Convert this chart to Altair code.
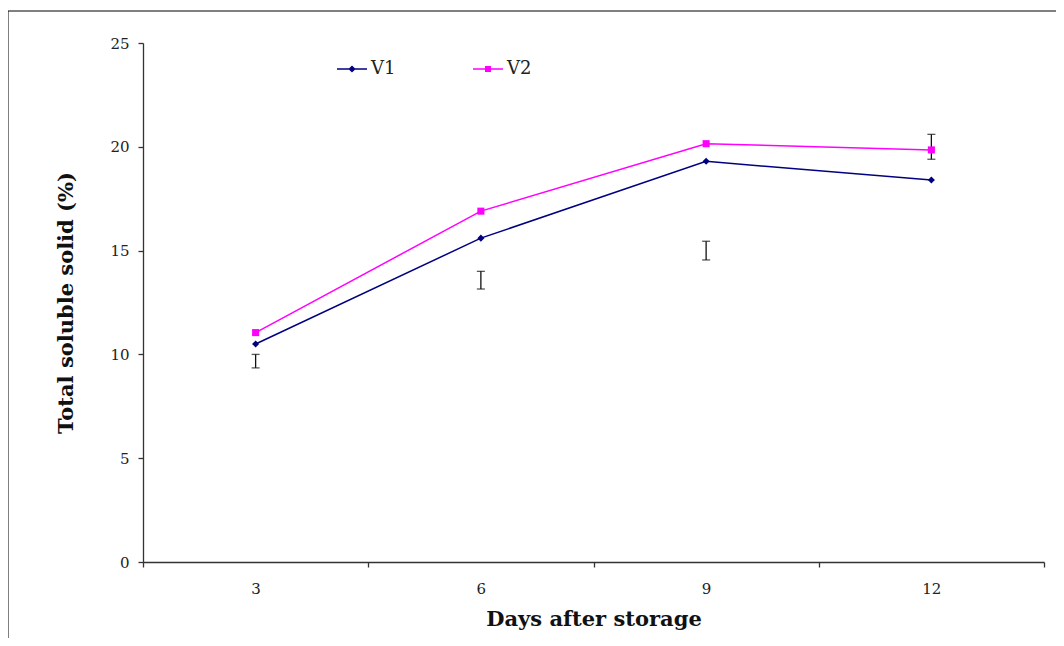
import altair as alt
import pandas as pd

days = [3, 6, 9, 12]
series = ["V1", "V2"]
v1 = [10.5, 15.6, 19.3, 18.4]
v2 = [11.05, 16.9, 20.15, 19.85]
err_lo = [9.35, 13.15, 14.55, 19.4]
err_hi = [10.0, 14.0, 15.45, 20.6]
x_tick_values = [1.5, 4.5, 7.5, 10.5, 13.5]
y_tick_values = [0, 5, 10, 15, 20, 25]
colors = ["#000080", "#FF00FF"]
shapes = ["diamond", "square"]

W, H = 901, 519
SERIF = "DejaVu Serif"

rows = []
for d, a, b in zip(days, v1, v2):
    rows.append({"day": d, "series": "V1", "value": a})
    rows.append({"day": d, "series": "V2", "value": b})
df = pd.DataFrame(rows)
err = pd.DataFrame({"day": days, "lo": err_lo, "hi": err_hi})

xscale = alt.Scale(domain=[1.5, 13.5], nice=False, zero=False)
yscale = alt.Scale(domain=[0, 25], nice=False)

xaxis = alt.Axis(
    values=x_tick_values,
    labelExpr="datum.value > 13 ? '' : format(datum.value + 1.5, 'd')",
    labelOffset=112.6,
    labelOverlap=False,
    labelFlush=False,
    tickSize=5,
    labelPadding=14,
    title="Days after storage",
    titlePadding=12,
    grid=False,
)
yaxis = alt.Axis(
    values=y_tick_values,
    tickSize=5,
    labelPadding=9,
    title="Total soluble solid (%)",
    titlePadding=33,
    grid=False,
)

# legend symbols: a thin bar (the line) plus the marker, filled
legend_paths = [
    "M-1,-0.05L1,-0.05L1,0.05L-1,0.05ZM0,-0.24L0.24,0L0,0.24L-0.24,0Z",
    "M-1,-0.05L1,-0.05L1,0.05L-1,0.05ZM-0.2,-0.2L0.2,-0.2L0.2,0.2L-0.2,0.2Z",
]
legend_x = [194, 330]

base = alt.Chart(df)
lines = base.mark_line(strokeWidth=1.5).encode(
    x=alt.X("day:Q", scale=xscale, axis=xaxis),
    y=alt.Y("value:Q", scale=yscale, axis=yaxis),
    color=alt.Color("series:N", scale=alt.Scale(domain=series, range=colors), legend=None),
)
points = base.mark_point(filled=True, size=50, opacity=1).encode(
    x=alt.X("day:Q", scale=xscale),
    y=alt.Y("value:Q", scale=yscale),
    color=alt.Color("series:N", scale=alt.Scale(domain=series, range=colors), legend=None),
    shape=alt.Shape("series:N", scale=alt.Scale(domain=series, range=shapes), legend=None),
)

legend_layers = []
for s, c, p, lx in zip(series, colors, legend_paths, legend_x):
    lg = (
        alt.Chart(df[df["series"] == s])
        .mark_point(filled=True, size=900, opacity=0, color=c)
        .encode(
            x=alt.X("day:Q", scale=xscale),
            y=alt.Y("value:Q", scale=yscale),
            shape=alt.Shape(
                "series:N",
                scale=alt.Scale(domain=[s], range=[p]),
                legend=alt.Legend(
                    title=None,
                    orient="none",
                    legendX=lx,
                    legendY=11,
                    symbolOpacity=1,
                    symbolSize=900,
                    symbolFillColor=c,
                    symbolStrokeWidth=0,
                    labelFont=SERIF,
                    labelFontSize=18,
                    labelColor="#222222",
                    labelOffset=4,
                    padding=0,
                ),
            ),
        )
    )
    legend_layers.append(lg)

ebase = alt.Chart(err)
erule = ebase.mark_rule(color="#111111", strokeWidth=1.3).encode(
    x=alt.X("day:Q", scale=xscale),
    y=alt.Y("lo:Q", scale=yscale),
    y2="hi:Q",
)
etick_lo = ebase.mark_tick(color="#111111", orient="horizontal", size=8, thickness=1.3).encode(
    x=alt.X("day:Q", scale=xscale),
    y=alt.Y("lo:Q", scale=yscale),
)
etick_hi = ebase.mark_tick(color="#111111", orient="horizontal", size=8, thickness=1.3).encode(
    x=alt.X("day:Q", scale=xscale),
    y=alt.Y("hi:Q", scale=yscale),
)

frame_data = pd.DataFrame({"k": [0]})
frame_top = alt.Chart(frame_data).mark_rule(color="black", strokeWidth=1).encode(
    x=alt.value(-135), x2=alt.value(W + 12), y=alt.value(-32)
)
frame_left = alt.Chart(frame_data).mark_rule(color="black", strokeWidth=1).encode(
    x=alt.value(-135), y=alt.value(-32), y2=alt.value(H + 76)
)

chart = (
    alt.layer(frame_top, frame_left, erule, etick_lo, etick_hi, lines, points, *legend_layers)
    .resolve_scale(shape="independent")
    .resolve_legend(shape="independent")
    .properties(
        width=W,
        height=H,
        autosize=alt.AutoSizeParams(type="none"),
        padding={"left": 135, "top": 35, "right": 12, "bottom": 76},
    )
    .configure_view(stroke=None)
    .configure_legend(labelFont=SERIF, labelFontSize=18, labelColor="#222222")
    .configure_axis(
        domainColor="#333333",
        tickColor="#333333",
        domainWidth=1.3,
        tickWidth=1.3,
        labelFont=SERIF,
        labelFontSize=15,
        labelColor="#222222",
        titleFont=SERIF,
        titleFontSize=21,
        titleFontWeight="bold",
        titleColor="#111111",
    )
)

chart.save("out.html", embed_options={"renderer": "svg", "actions": False})
